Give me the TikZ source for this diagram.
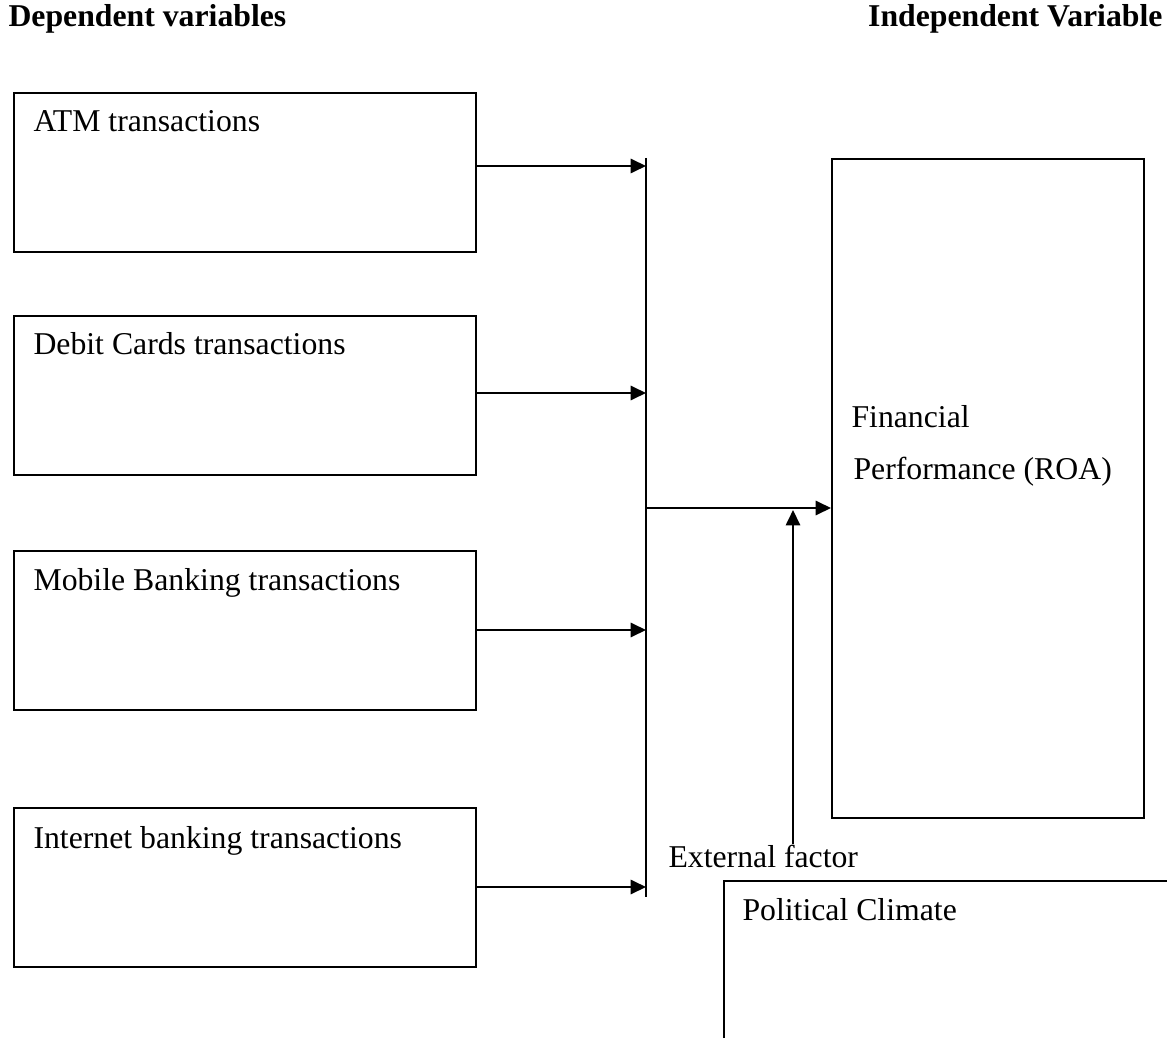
\documentclass[tikz,border=0pt]{standalone}
\usepackage{fontspec}
\setmainfont{Liberation Serif}
\usepackage{tikz}
\usetikzlibrary{calc,arrows.meta}
\tikzset{
	varbox/.style={rectangle,draw,line width=0.75pt,minimum width=174.6pt,minimum height=60.1pt,anchor=north west,inner sep=0pt},
	boxtext/.style={anchor=base west,inner sep=0pt,font=\fontsize{12}{14}\selectfont},
	heading/.style={inner sep=0pt,font=\fontsize{12}{14}\selectfont\bfseries},
	directed/.style={line width=0.75pt,arrows={-Triangle[length=5.8pt,width=5.4pt]}},
	plain/.style={line width=0.75pt}
	}

\begin{document}
\begin{tikzpicture}[x=0.378pt,y=-0.378pt]
      \useasboundingbox (0,0) rectangle (1167,1038);
      \node[heading,anchor=base west] (dep) at (8,27) {Dependent variables};
      \node[heading,anchor=base east] (indep) at (1163,27) {Independent Variable};
      % dependent variable boxes
      \node[varbox] (atm) at (13,92) {};
      \node[varbox] (debit) at (13,315) {};
      \node[varbox] (mobile) at (13,550) {};
      \node[varbox] (internet) at (13,807) {};
      \node[boxtext] at ([shift={(20,40)}]atm.north west) {ATM transactions};
      \node[boxtext] at ([shift={(20,40)}]debit.north west) {Debit Cards transactions};
      \node[boxtext] at ([shift={(20,40)}]mobile.north west) {Mobile Banking transactions};
      \node[boxtext] at ([shift={(20,41)}]internet.north west) {Internet banking transactions};
      % collecting line
      \coordinate (bustop) at (646,158);
      \coordinate (busbot) at (646,897);
      \draw[plain] (bustop) -- (busbot);
      \coordinate (b1) at (646,166);
      \coordinate (b2) at (646,393);
      \coordinate (b3) at (646,630);
      \coordinate (b4) at (646,887);
      \draw[directed] (atm.east |- b1) -- (b1);
      \draw[directed] (debit.east |- b2) -- (b2);
      \draw[directed] (mobile.east |- b3) -- (b3);
      \draw[directed] (internet.east |- b4) -- (b4);
      % independent variable
      \node[varbox,minimum width=117.9pt,minimum height=249.1pt] (fin) at (831,158) {};
      \node[boxtext] (fin1) at (851,427) {Financial};
      \node[boxtext] (fin2) at (853,479) {Performance (ROA)};
      \coordinate (jn) at (646,508);
      \draw[directed] (jn) -- (fin.west |- jn);
      % external factor
      \node[boxtext] (ext) at (668,867) {External factor};
      \coordinate (ftop) at (793,510);
      \draw[directed] (ext.north -| ftop) -- (ftop);
      \coordinate (pol) at (724,881);
      \draw[plain] (724,1038) -- (pol) -- (1167,881);
      \node[boxtext] (poltext) at (742,920) {Political Climate};
    \end{tikzpicture}
\end{document}
